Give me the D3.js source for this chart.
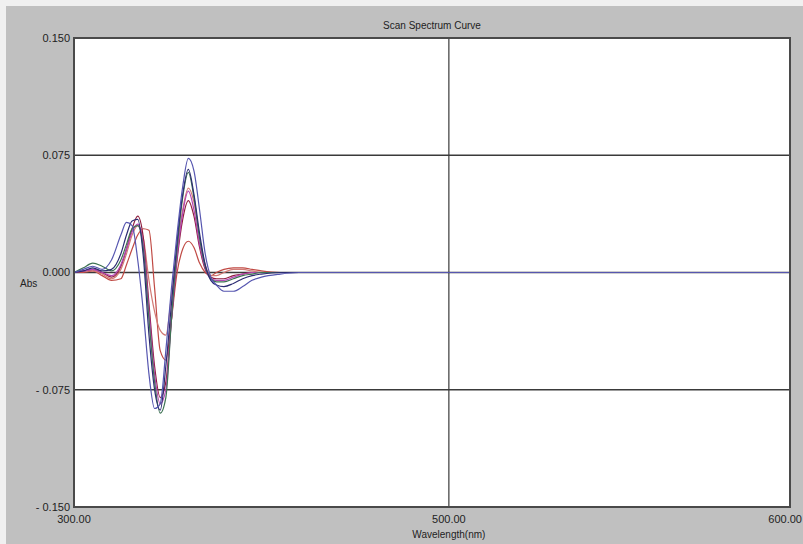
<!DOCTYPE html>
<html>
<head>
<meta charset="utf-8">
<script src="https://cdn.jsdelivr.net/npm/d3@7"></script>
<style>
body { margin:0; background:#f0f0f0; }
svg { display:block; font-family:"Liberation Sans", Arial, sans-serif; }
</style>
</head>
<body>
<script>
var width = 803, height = 544;

// wavelength grid (nm) shared by every curve
var wavelengths = [300,305,310,315,320,325,328,331,334,337,340,343,346,349,352,355,358,361,364,367,370,373,376,380,385,390,395,400,410,420,440,500,600,682];

var brickVals  = [0,0,0.001,-0.002,-0.005,-0.004,0.005,0.015,0.024,0.028,0.027,-0.010,-0.050,-0.056,-0.030,0,0.015,0.020,0.016,0.006,0,-0.002,0,0.002,0.003,0.003,0.002,0.001,0,0,0,0,0,0];
var pinkVals   = [0,0.001,0.001,-0.001,-0.004,0.002,0.012,0.024,0.030,0.022,-0.005,-0.025,-0.037,-0.040,-0.015,0.015,0.040,0.054,0.045,0.022,0.005,-0.002,-0.002,0,0.002,0.002,0.001,0,0,0,0,0,0,0];
var darkRedVals= [0,0.001,0.002,0,-0.003,0.004,0.015,0.028,0.036,0.022,-0.020,-0.060,-0.080,-0.070,-0.030,0.008,0.034,0.046,0.036,0.016,0.002,-0.003,-0.004,-0.004,-0.002,-0.001,0,0,0,0,0,0,0,0];
var magentaVals= [0,0.001,0.002,0,-0.002,0.005,0.015,0.026,0.031,0.018,-0.025,-0.065,-0.084,-0.075,-0.030,0.010,0.038,0.052,0.040,0.018,0.003,-0.004,-0.005,-0.005,-0.003,-0.001,0,0,0,0,0,0,0,0];
var greenVals  = [0,0.003,0.006,0.004,0.001,0.008,0.018,0.028,0.030,0.015,-0.030,-0.070,-0.090,-0.080,-0.030,0.015,0.048,0.064,0.048,0.022,0.004,-0.004,-0.006,-0.006,-0.004,-0.002,-0.001,0,0,0,0,0,0,0];
var navyVals   = [0,0.001,0.003,0.001,0.002,0.012,0.024,0.033,0.034,0.010,-0.040,-0.075,-0.088,-0.060,-0.020,0.020,0.050,0.066,0.050,0.025,0.005,-0.005,-0.008,-0.009,-0.007,-0.004,-0.002,-0.001,0,0,0,0,0,0];
var blueVals   = [0,0.002,0.004,0.002,0.008,0.024,0.032,0.030,0.008,-0.025,-0.065,-0.087,-0.084,-0.050,-0.010,0.025,0.055,0.073,0.065,0.040,0.012,-0.003,-0.008,-0.012,-0.012,-0.009,-0.005,-0.003,-0.001,0,0,0,0,0];

var seriesColors = ["#c04a44","#d27a74","#8e1d3c","#b445b4","#3f7354","#2c2c72","#5656b0"];
var seriesVals = [brickVals, pinkVals, darkRedVals, magentaVals, greenVals, navyVals, blueVals];

var yTicks = [0.150, 0.075, 0.000, -0.075, -0.150];
var yTickLabels = ["0.150","0.075","0.000","- 0.075","- 0.150"];
var xTicks = [300, 500, 682];
var xTickLabels = ["300.00","500.00","600.00"];
var gridY = [0.075, 0, -0.075];
var gridX = [500];

var svg = d3.select("body").append("svg")
	.attr("width", width)
	.attr("height", height);

svg.append("rect").attr("x",6).attr("y",6).attr("width",width-6).attr("height",height-6).style("fill","#c0c0c0");

var x = d3.scaleLinear().domain([300, 682]).range([74, 790]);
var y = d3.scaleLinear().domain([-0.150, 0.150]).range([507, 38]);

svg.append("rect")
	.attr("x", x(300)).attr("y", y(0.150))
	.attr("width", x(682)-x(300)).attr("height", y(-0.150)-y(0.150))
	.style("fill","#fff");

svg.selectAll(".gy").data(gridY).enter().append("line")
	.attr("x1", x(300)).attr("x2", x(682))
	.attr("y1", function(d){return y(d)}).attr("y2", function(d){return y(d)})
	.style("stroke","#3a3a3a").style("stroke-width",1.5);

svg.selectAll(".gx").data(gridX).enter().append("line")
	.attr("y1", y(0.150)).attr("y2", y(-0.150))
	.attr("x1", function(d){return x(d)}).attr("x2", function(d){return x(d)})
	.style("stroke","#3a3a3a").style("stroke-width",1.2);

var line = d3.line()
	.x(function(d){return x(d[0])})
	.y(function(d){return y(d[1])})
	.curve(d3.curveMonotoneX);

seriesVals.forEach(function(vals, i){
	var pts = wavelengths.map(function(w, j){return [w, vals[j]]});
	svg.append("path")
		.datum(pts)
		.attr("d", line)
		.style("fill","none")
		.style("stroke", seriesColors[i])
		.style("stroke-width",1.2);
});

// frame
svg.append("rect")
	.attr("x", x(300)).attr("y", y(0.150))
	.attr("width", x(682)-x(300)).attr("height", y(-0.150)-y(0.150))
	.style("fill","none").style("stroke","#4a4a4a").style("stroke-width",2);

svg.selectAll(".yl").data(yTicks).enter().append("text")
	.attr("x", 70)
	.attr("y", function(d){return y(d)})
	.attr("dy","0.35em")
	.attr("text-anchor","end")
	.style("font-size","11px").style("fill","#222")
	.text(function(d,i){return yTickLabels[i]});

svg.selectAll(".xl").data(xTicks).enter().append("text")
	.attr("x", function(d,i){return i==2 ? width-1 : x(d)})
	.attr("y", 523)
	.attr("text-anchor", function(d,i){return i==2 ? "end" : "middle"})
	.style("font-size","11px").style("fill","#222")
	.text(function(d,i){return xTickLabels[i]});

svg.append("text").attr("x", x(500)).attr("y", 538).attr("text-anchor","middle")
	.style("font-size","10px").style("fill","#222").text("Wavelength(nm)");

svg.append("text").attr("x", 20).attr("y", 287)
	.style("font-size","10px").style("fill","#222").text("Abs");

svg.append("text").attr("x", (x(300)+x(682))/2).attr("y", 29).attr("text-anchor","middle")
	.style("font-size","10px").style("fill","#222").text("Scan Spectrum Curve");
</script>
</body>
</html>
